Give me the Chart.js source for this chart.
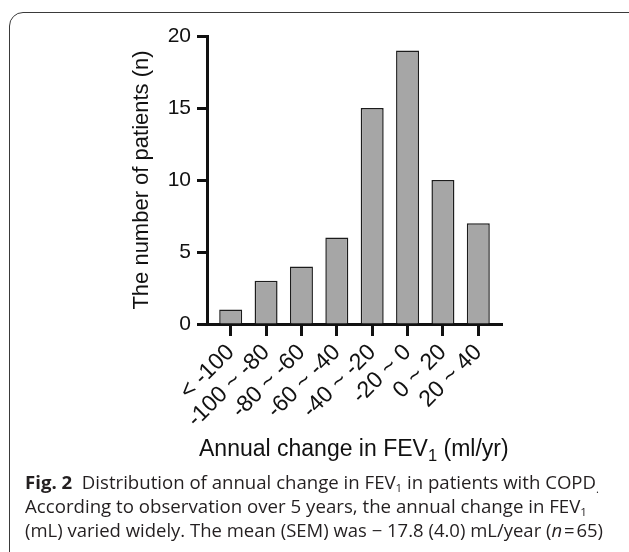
<!DOCTYPE html>
<html>
<head>
<meta charset="utf-8">
<script src="https://cdn.jsdelivr.net/npm/chart.js@4.4.1/dist/chart.umd.min.js"></script>
<style>
  html, body { margin: 0; padding: 0; background: #fff; }
  body { width: 629px; height: 552px; overflow: hidden; position: relative; }
  #frame {
    position: absolute; left: 9px; top: 12px; width: 700px; height: 600px;
    border: 1.3px solid #3a3a3a; border-radius: 14px; box-sizing: border-box;
  }
  #chart { position: absolute; left: 0; top: 0; }
  #xtitle {
    position: absolute; left: 199px; top: 435px; white-space: nowrap;
    font-family: 'Liberation Sans', Arial, sans-serif; font-size: 23px; line-height: 26px; color: #111;
  }
  #xtitle sub { font-size: 0.72em; vertical-align: -0.32em; line-height: 0; }
  #caption {
    position: absolute; left: 25px; top: 470px;
    font-family: 'Open Sans', 'Noto Sans', sans-serif; font-size: 17.5px; line-height: 24px;
    color: #231f20;
  }
  .line { white-space: nowrap; transform-origin: 0 50%; width: max-content; height: 24px; }
  .line sub { font-size: 0.62em; vertical-align: -0.28em; line-height: 0; }
  .dot { font-size: 0.6em; vertical-align: -0.35em; line-height: 0; }
</style>
</head>
<body>
<div id="frame"></div>
<canvas id="chart" width="629" height="480"></canvas>
<div id="xtitle">Annual change in FEV<sub>1</sub> (ml/yr)</div>
<div id="caption">
  <div class="line" data-w="574"><b>Fig. 2</b>&nbsp; Distribution of annual change in FEV<sub>1</sub> in patients with COPD<span class="dot">.</span></div>
  <div class="line" data-w="562">According to observation over 5 years, the annual change in FEV<sub>1</sub></div>
  <div class="line" data-w="578">(mL) varied widely. The mean (SEM) was − 17.8 (4.0) mL/year (<i>n</i>&#8202;=&#8202;65)</div>
</div>
<script>
// FEV1 decline bins and patient counts
const categories = ['< -100', '-100 ~ -80', '-80 ~ -60', '-60 ~ -40', '-40 ~ -20', '-20 ~ 0', '0 ~ 20', '20 ~ 40'];
const patients = [1, 3, 4, 6, 15, 19, 10, 7];
const yTicks = [0, 5, 10, 15, 20];

const axisColor = '#111';
const fontFamily = "'Liberation Sans', Arial, sans-serif";

new Chart(document.getElementById('chart'), {
  type: 'bar',
  data: {
    datasets: [{
      data: patients.map((v, i) => ({ x: i, y: v })),
      backgroundColor: '#a6a6a6',
      borderColor: '#1c1c1c',
      borderWidth: 1.5,
      barPercentage: 0.65,
      categoryPercentage: 1
    }]
  },
  options: {
    responsive: false,
    animation: false,
    devicePixelRatio: 1,
    layout: { padding: { left: 120, top: 36, right: 127, bottom: 0 } },
    plugins: {
      legend: { display: false },
      tooltip: { enabled: false }
    },
    scales: {
      x: {
        type: 'linear',
        offset: false,
        min: -0.67,
        max: categories.length - 0.33,
        afterFit: s => { s.height = 156; },
        grid: { offset: false, drawOnChartArea: false, drawTicks: true, tickLength: 12, tickWidth: 3, tickColor: axisColor },
        border: { display: true, color: axisColor, width: 3 },
        ticks: {
          stepSize: 1,
          includeBounds: false,
          autoSkip: false,
          minRotation: 45,
          maxRotation: 45,
          padding: 3,
          color: axisColor,
          font: { family: fontFamily, size: 23 },
          callback: v => categories[v] ?? ''
        }
      },
      y: {
        min: yTicks[0],
        max: yTicks[yTicks.length - 1],
        afterFit: s => { s.width = 87; },
        grid: { drawOnChartArea: false, drawTicks: true, tickLength: 10, tickWidth: 3, tickColor: axisColor },
        border: { display: true, color: axisColor, width: 3 },
        ticks: {
          stepSize: yTicks[1] - yTicks[0],
          padding: 6,
          color: axisColor,
          font: { family: fontFamily, size: 21 }
        },
        title: {
          display: true,
          text: 'The number of patients (n)',
          color: axisColor,
          font: { family: fontFamily, size: 22 },
          padding: { top: 9, bottom: 0 }
        }
      }
    }
  }
});

// squeeze caption lines to the width they take in the figure
document.querySelectorAll('#caption .line').forEach(el => {
  const w = el.getBoundingClientRect().width;
  el.style.transform = `scaleX(${(+el.dataset.w / w).toFixed(4)})`;
});
</script>
</body>
</html>
